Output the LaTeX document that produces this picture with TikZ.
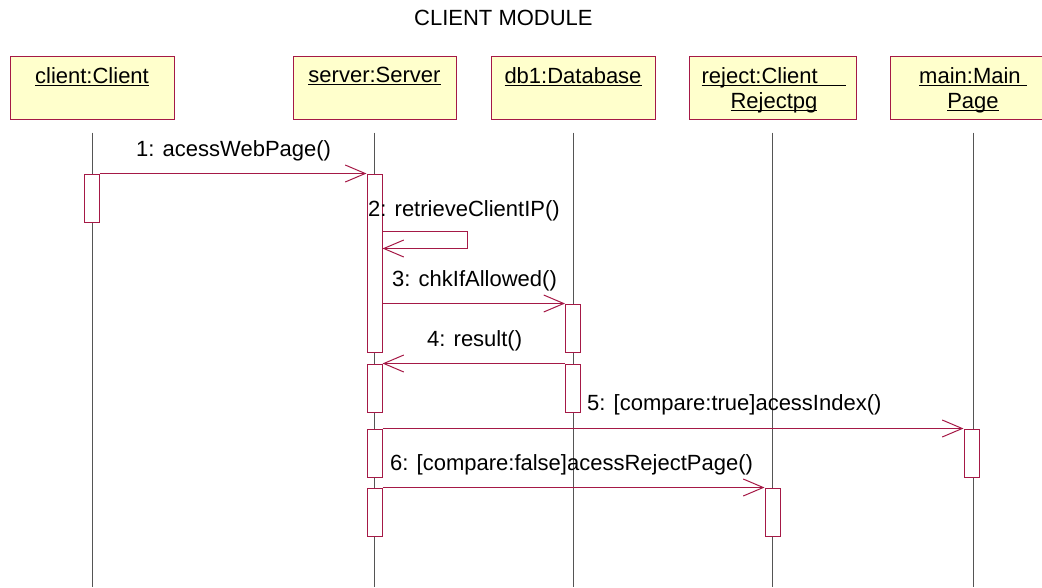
\documentclass[tikz,border=0pt]{standalone}
\usepackage{fontspec}
\setmainfont{Liberation Sans}
\usetikzlibrary{arrows.meta}
\definecolor{rosewine}{RGB}{165,25,70}
\definecolor{noteyellow}{RGB}{255,255,204}
\definecolor{lifegray}{RGB}{85,85,85}
% underlined object names: the rule sits just under the baseline, like UML tools draw it
\newsavebox\ulbox
\newcommand\ulword[1]{\sbox\ulbox{#1}\rlap{\rule[-2.4pt]{\wd\ulbox}{1pt}}\usebox\ulbox}

\begin{document}
\begin{tikzpicture}[x=1pt,y=-1pt,
  font=\fontsize{22}{25.5}\selectfont,
  objbox/.style={draw=rosewine,fill=noteyellow,line width=1pt,minimum height=63pt,inner sep=0},
  objname/.style={anchor=north,inner sep=0,align=center},
  lifeline/.style={draw=lifegray,line width=0.8pt},
  actbar/.style={draw=rosewine,fill=white,line width=1pt,minimum width=15pt,inner sep=0},
  msg/.style={draw=rosewine,line width=1pt,-{Straight Barb[length=20pt,width=17pt]}},
  msglabel/.style={anchor=base west,inner sep=0},
]
\useasboundingbox (0,0) rectangle (1042,587);

% title
\node[anchor=base west,inner sep=0] (title) at (414,25) {CLIENT MODULE};

% object headers
\node[objbox,minimum width=164pt] (client) at (92,87.5) {};
\node[objbox,minimum width=163pt] (server) at (374.5,87.5) {};
\node[objbox,minimum width=164pt] (db)     at (573,87.5) {};
\node[objbox,minimum width=167pt] (reject) at (772.5,87.5) {};
\node[objbox,minimum width=166pt] (main)   at (973,87.5) {};

\node[objname] (client-name) at (92,67)    {\ulword{client:Client}};
\node[objname] (server-name) at (374.5,67) {\ulword{server:Server}};
\node[objname] (db-name)     at (573,67)   {\ulword{db1:Database}};
\node[objname] (reject-name) at (774,67)   {\ulword{reject:Client\hspace{1.3em}}\\\ulword{Rejectpg}};
\node[objname] (main-name)   at (973,67)   {\ulword{main:Main\ }\\\ulword{Page}};

% lifelines
\coordinate (bottom) at (0,587);
\foreach \o in {client,server,db,reject,main}
  \draw[lifeline] ([yshift=-13pt]\o.south) -- (\o.south |- bottom);

% activation bars
\node[actbar,minimum height=48pt]  (cbar)  at (91.5,198)  {};
\node[actbar,minimum height=178pt] (sbar1) at (374.5,263) {};
\node[actbar,minimum height=48pt]  (dbar1) at (573,328)   {};
\node[actbar,minimum height=48pt]  (sbar2) at (374.5,388) {};
\node[actbar,minimum height=48pt]  (dbar2) at (573,388)   {};
\node[actbar,minimum height=48pt]  (sbar3) at (374.5,453) {};
\node[actbar,minimum height=48pt]  (mbar)  at (971.5,453) {};
\node[actbar,minimum height=48pt]  (sbar4) at (374.5,512) {};
\node[actbar,minimum height=48pt]  (rbar)  at (772.5,512) {};

% messages
\draw[msg] (cbar.north east) -- (sbar1.north west);
\draw[msg] ([yshift=-58pt]sbar1.north east) -- ++(85,0) -- ++(0,17)
           -- ([yshift=-75pt]sbar1.north east);
\draw[msg] (sbar1.east |- dbar1.north) -- (dbar1.north west);
\draw[msg] (dbar2.north west) -- (sbar2.north east);
\draw[msg] (sbar3.north east) -- (mbar.north west);
\draw[msg] (sbar4.north east) -- (rbar.north west);

% message labels
\node[msglabel] (m1) at (136,156) {1: acessWebPage()};
\node[msglabel] (m2) at (368,216) {2: retrieveClientIP()};
\node[msglabel] (m3) at (392,286) {3: chkIfAllowed()};
\node[msglabel] (m4) at (427,346) {4: result()};
\node[msglabel] (m5) at (587,410) {5: [compare:true]acessIndex()};
\node[msglabel] (m6) at (390,470) {6: [compare:false]acessRejectPage()};
\end{tikzpicture}
\end{document}
